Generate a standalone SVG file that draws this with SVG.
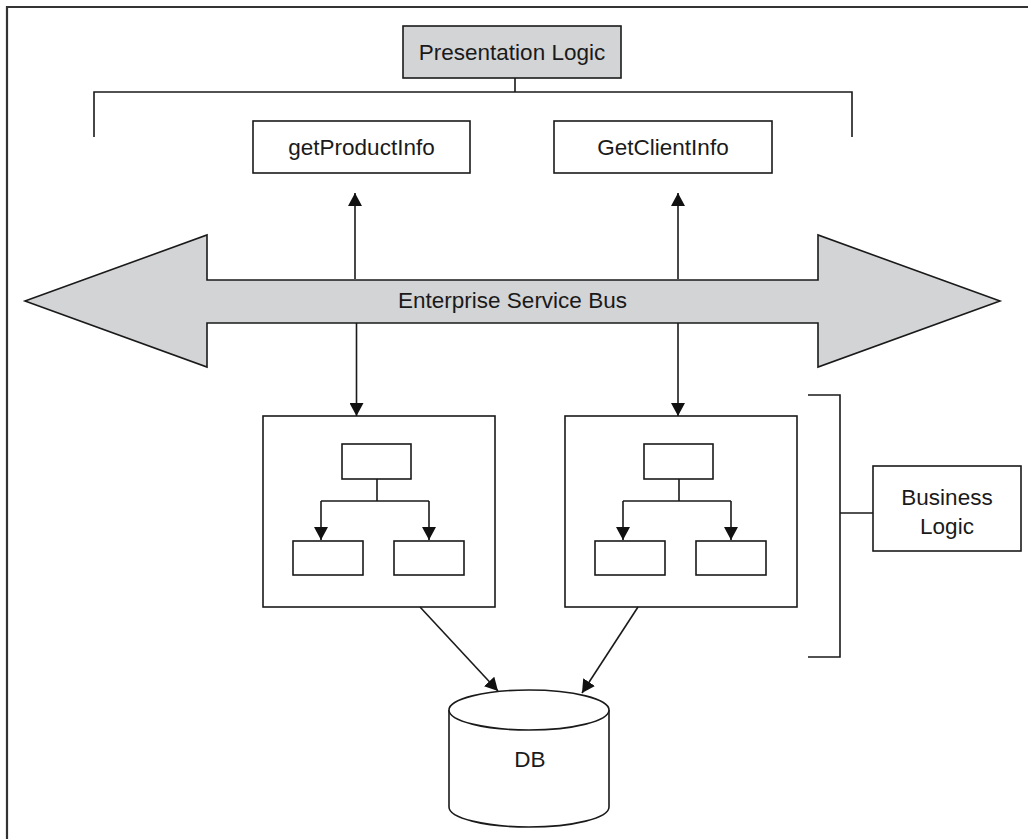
<svg xmlns="http://www.w3.org/2000/svg" width="1028" height="839" viewBox="0 0 1028 839">
<style>
.box{fill:#fff;stroke:#1a1a1a;stroke-width:1.6}
.gray{fill:#d3d4d6;stroke:#1a1a1a;stroke-width:1.6}
.ln{fill:none;stroke:#1a1a1a;stroke-width:1.6}
.t{font-family:"Liberation Sans",Arial,sans-serif;font-size:22.5px;fill:#1a1a1a;text-anchor:middle}
</style>
<defs>
<marker id="ah" viewBox="0 0 13 14" refX="13" refY="7" markerWidth="13" markerHeight="14" markerUnits="userSpaceOnUse" orient="auto">
<path d="M0,0 L13,7 L0,14 z" fill="#111"/>
</marker>
</defs>
<rect width="1028" height="839" fill="#fff"/>
<path d="M7,845 V7 H1030" fill="none" stroke="#333" stroke-width="2.2"/>

<g id="presentation-logic">
<rect class="gray" x="403" y="26" width="218" height="52"/>
<text class="t" x="512" y="60">Presentation Logic</text>
</g>
<g id="presentation-bracket">
<path class="ln" d="M515,78 V92 M94,137 V92 H852 V137"/>
</g>
<g id="getProductInfo">
<rect class="box" x="253" y="121" width="217" height="52"/>
<text class="t" x="361.5" y="155">getProductInfo</text>
</g>
<g id="getClientInfo">
<rect class="box" x="554" y="121" width="218" height="52"/>
<text class="t" x="663" y="155">GetClientInfo</text>
</g>

<g id="esb">
<path class="gray" d="M25,301 L207,235 V280 H818 V235 L1000,301 L818,367 V323 H207 V367 Z"/>
<text class="t" x="512.5" y="307.5">Enterprise Service Bus</text>
</g>

<g id="service1">
<rect class="box" x="263" y="416" width="232" height="191"/>
<rect class="box" x="342" y="444" width="69" height="35"/>
<rect class="box" x="293" y="541" width="70" height="34"/>
<rect class="box" x="394" y="541" width="70" height="34"/>
<path class="ln" d="M377,479 V501 M321,501 H429"/>
</g>
<g id="service2">
<rect class="box" x="565" y="416" width="232" height="191"/>
<rect class="box" x="644" y="444" width="69" height="35"/>
<rect class="box" x="595" y="541" width="70" height="34"/>
<rect class="box" x="696" y="541" width="70" height="34"/>
<path class="ln" d="M679,479 V501 M623,501 H731"/>
</g>

<g id="business-bracket">
<path class="ln" d="M808,395 H840 V657 H808 M840,513 H873"/>
</g>
<g id="business-logic">
<rect class="box" x="873" y="466" width="148" height="85"/>
<text class="t" x="947" y="505">Business</text>
<text class="t" x="947" y="534">Logic</text>
</g>

<g id="db">
<path class="box" d="M449,710 V807 A80,20 0 0 0 609,807 V710"/>
<ellipse class="box" cx="529" cy="710" rx="80" ry="20"/>
<text class="t" x="530" y="767">DB</text>
</g>

<g id="connectors">
<line class="ln" x1="355" y1="279" x2="355" y2="193" marker-end="url(#ah)"/>
<line class="ln" x1="678" y1="279" x2="678" y2="193" marker-end="url(#ah)"/>
<line class="ln" x1="356.5" y1="323" x2="356.5" y2="416" marker-end="url(#ah)"/>
<line class="ln" x1="678" y1="323" x2="678" y2="416" marker-end="url(#ah)"/>
<line class="ln" x1="321" y1="501" x2="321" y2="540" marker-end="url(#ah)"/>
<line class="ln" x1="429" y1="501" x2="429" y2="540" marker-end="url(#ah)"/>
<line class="ln" x1="623" y1="501" x2="623" y2="540" marker-end="url(#ah)"/>
<line class="ln" x1="731" y1="501" x2="731" y2="540" marker-end="url(#ah)"/>
<line class="ln" x1="420" y1="607" x2="498" y2="691" marker-end="url(#ah)"/>
<line class="ln" x1="638" y1="607" x2="582" y2="693" marker-end="url(#ah)"/>
</g>
</svg>
